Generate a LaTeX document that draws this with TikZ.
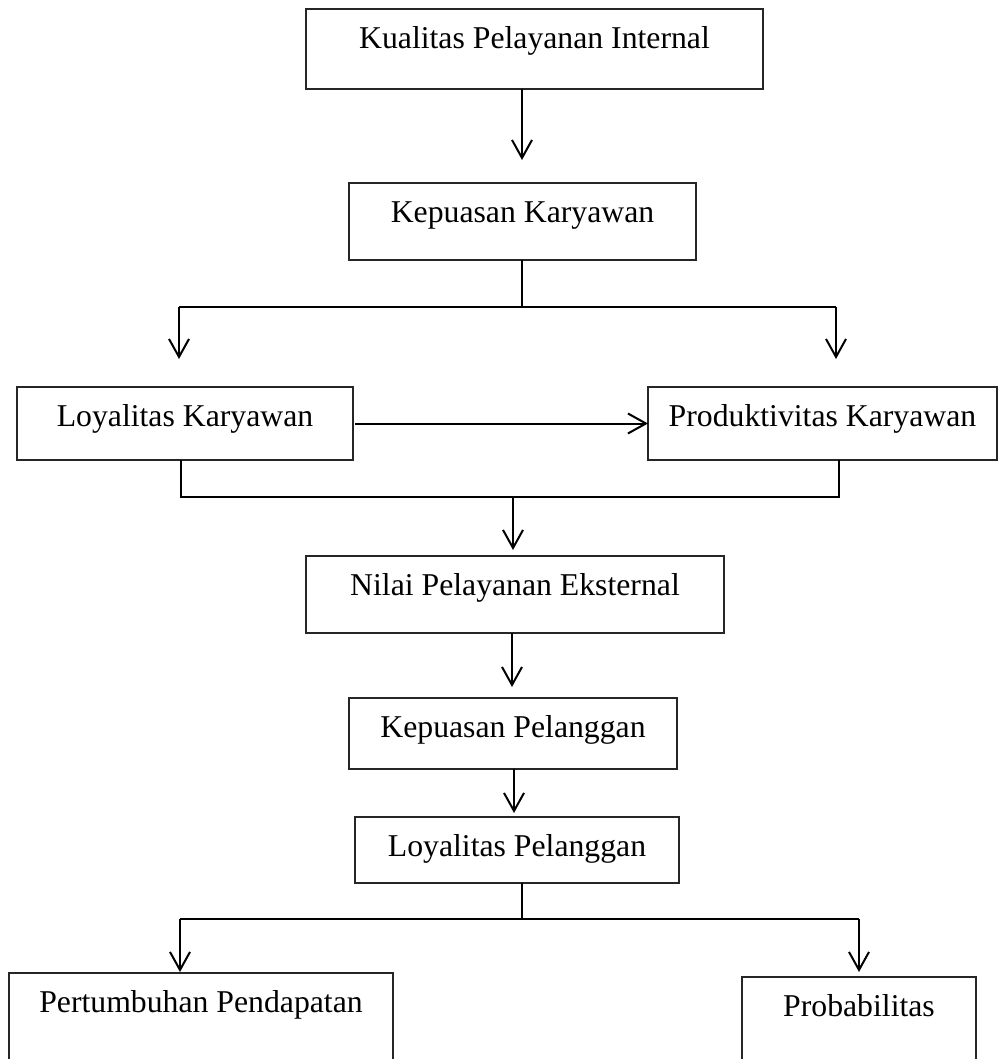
\documentclass[tikz,border=0pt]{standalone}
\usepackage{fontspec}
\setmainfont{Liberation Serif}
\usetikzlibrary{arrows.meta}
\begin{document}
\begin{tikzpicture}[x=0.75pt,y=-0.75pt,
  box/.style={draw=black!85, line width=0.9pt, inner sep=0pt, outer sep=0pt, anchor=north west,
              text height=29.6pt, font=\fontsize{23.8}{28}\selectfont},
  conn/.style={line width=1.5pt},
  arr/.style={line width=1.5pt, -{Straight Barb[length=13.5pt,width=15pt]}}]
\clip (0,0) rectangle (998,1059);
\fill[white] (0,0) rectangle (998,1059);
% boxes
\node[box, minimum width=342.75pt, minimum height=60pt,    text depth=30.4pt] (b1) at (306,9)   {Kualitas Pelayanan Internal};
\node[box, minimum width=260.25pt, minimum height=57.75pt, text depth=28.1pt] (b2) at (349,183) {Kepuasan Karyawan};
\node[box, minimum width=252pt,    minimum height=54.75pt, text depth=25.1pt] (lk) at (17,387)  {Loyalitas Karyawan};
\node[box, minimum width=261.75pt, minimum height=54.75pt, text depth=25.1pt] (pk) at (648,387) {Produktivitas Karyawan};
\node[box, minimum width=313.5pt,  minimum height=57.75pt, text depth=28.1pt] (nv) at (306,556) {Nilai Pelayanan Eksternal};
\node[box, minimum width=246pt,    minimum height=53.25pt, text depth=23.6pt] (kp) at (349,698) {Kepuasan Pelanggan};
\node[box, minimum width=243pt,    minimum height=49.5pt,  text depth=19.9pt] (lp) at (355,817) {Loyalitas Pelanggan};
\node[box, minimum width=288pt,    minimum height=90pt,    text depth=60.4pt] (pp) at (9,973)   {Pertumbuhan Pendapatan};
\node[box, minimum width=175.5pt,  minimum height=90pt,    text depth=60.4pt] (pr) at (742,977) {Probabilitas};
% coordinates
\coordinate (t1) at (522,160);
\coordinate (j1) at (522,307);
\coordinate (j1l) at (179,307);
\coordinate (j1r) at (836,307);
\coordinate (t2) at (179,359);
\coordinate (t3) at (836,359);
\coordinate (m1l) at (181,497);
\coordinate (m1r) at (839,497);
\coordinate (m1) at (513,497);
\coordinate (t4) at (513,550);
\coordinate (t5) at (512,687);
\coordinate (t6) at (514,813);
\coordinate (j2) at (522,919);
\coordinate (j2l) at (180,919);
\coordinate (j2r) at (859,919);
\coordinate (t7) at (180,972);
\coordinate (t8) at (859,972);
% connectors
\draw[arr] (b1.south -| t1) -- (t1);
\draw[conn] (b2.south -| j1) -- (j1);
\draw[conn] (j1l) -- (j1r);
\draw[arr] (j1l) -- (t2);
\draw[arr] (j1r) -- (t3);
\draw[arr, shorten <=1.5pt] (lk.east) -- (pk.west);
\draw[conn] (lk.south -| m1l) -- (m1l) -- (m1r) -- (pk.south -| m1r);
\draw[arr] (m1) -- (t4);
\draw[arr] (nv.south -| t5) -- (t5);
\draw[arr] (kp.south -| t6) -- (t6);
\draw[conn] (lp.south -| j2) -- (j2);
\draw[conn] (j2l) -- (j2r);
\draw[arr] (j2l) -- (t7);
\draw[arr] (j2r) -- (t8);
\end{tikzpicture}
\end{document}
